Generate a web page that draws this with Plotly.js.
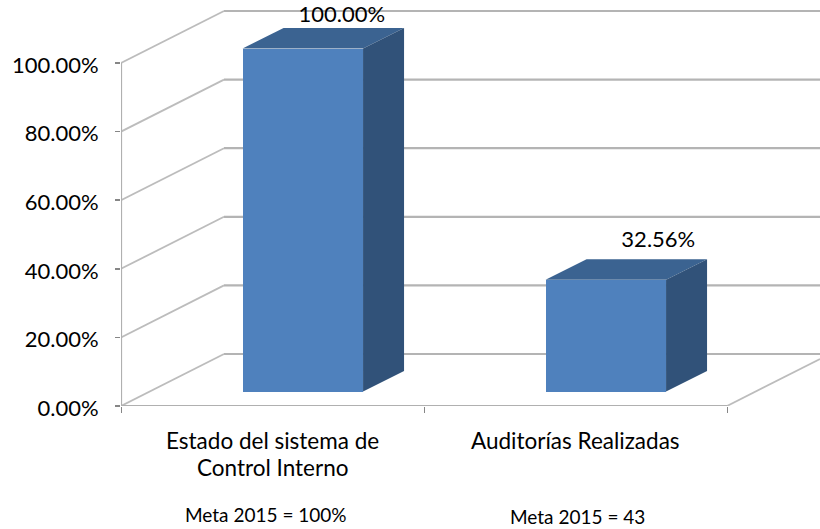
<!DOCTYPE html>
<html><head><meta charset="utf-8">
<script src="https://cdn.plot.ly/plotly-3.0.1.min.js"></script>
<style>html,body{margin:0;padding:0;background:#fff}</style></head>
<body><div id="c" style="width:820px;height:529px"></div>
<script>
const categories = ["Estado del sistema de<br>Control Interno", "Auditorías Realizadas"];
const values = [100, 32.56];
const valueLabels = ["100.00%", "32.56%"];
const metaNotes = ["Meta 2015 = 100%", "Meta 2015 = 43"];
const yTicks = [0, 20, 40, 60, 80, 100];
const yTickLabels = ["0.00%", "20.00%", "40.00%", "60.00%", "80.00%", "100.00%"];
const xTicks = [0, 1, 2];

// projection geometry (axis units)
const PXX = 303, PXY = 3.43;
const wallDX = 103 / PXX, wallDY = 52 / PXY;
const barLift = 14.5 / PXY, barW = 120.5 / PXX, barOff = 0.6;
const sideDX = 41 / PXX, sideDY = 20.5 / PXY;
const xMax = 699 / PXX, yMax = 406 / PXY;
const GRID = "#b4b4b4", FONT = "Lato, sans-serif";

const traces = [];
function line(xs, ys, color, width) {
  traces.push({type:"scatter", mode:"lines", x:xs, y:ys, cliponaxis:false, hoverinfo:"skip",
    showlegend:false, line:{color:color, width:width}, xaxis:"x", yaxis:"y"});
}
yTicks.forEach(t => {
  line([wallDX, xMax], [t + wallDY, t + wallDY], GRID, 2.2);
  line([0, wallDX], [t, t + wallDY], "#bcbcbc", 1.8);
});
line([2, xMax], [0, wallDY * (xMax - 2) / wallDX], "#bcbcbc", 1.8);
line([0, 0], [0, 100], "#b0b0b0", 2.2);
line([0, 2], [0, 0], "#b0b0b0", 2.2);

const centers = values.map((_, i) => i + barOff);
traces.push({type:"bar", x:centers, y:values, base:values.map(() => barLift), width:barW,
  marker:{color:"#4f81bd", line:{width:0}}, hoverinfo:"skip", showlegend:false, xaxis:"x2", yaxis:"y2"});

values.forEach((v, i) => {
  const l = centers[i] - barW / 2, r = centers[i] + barW / 2, b = barLift, t = barLift + v;
  traces.push({type:"scatter", mode:"lines", fill:"toself", fillcolor:"#3b6391", line:{width:0},
    x:[l, r, r + sideDX, l + sideDX, l], y:[t, t, t + sideDY, t + sideDY, t],
    hoverinfo:"skip", showlegend:false, xaxis:"x2", yaxis:"y2"});
  traces.push({type:"scatter", mode:"lines", fill:"toself", fillcolor:"#315279", line:{width:0},
    x:[r, r + sideDX, r + sideDX, r, r], y:[b, b + sideDY, t + sideDY, t, b],
    hoverinfo:"skip", showlegend:false, xaxis:"x2", yaxis:"y2"});
});

const labelDX = [39 / PXX, 52.5 / PXX], labelDY = [32 / PXY, 38 / PXY];
traces.push({type:"scatter", mode:"text", x:centers.map((c, i) => c + labelDX[i]),
  y:values.map((v, i) => barLift + v + labelDY[i]), text:valueLabels, textposition:"middle center",
  textfont:{family:FONT, size:22, color:"#000"}, cliponaxis:false, hoverinfo:"skip", showlegend:false, xaxis:"x2", yaxis:"y2"});

function note(text, xv, py, size) {
  return {text:text, xref:"x", yref:"paper", x:xv, y:-(py - 406) / 406, yanchor:"middle", xanchor:"center",
    showarrow:false, font:{family:FONT, size:size, color:"#000"}};
}
const catLines = categories[0].split("<br>");
const layout = {
  width:820, height:529, margin:{l:121, r:0, t:0, b:123, pad:0},
  paper_bgcolor:"#fff", plot_bgcolor:"#fff", showlegend:false, bargap:0,
  font:{family:FONT, color:"#000"},
  xaxis:{range:[0, xMax], showgrid:false, zeroline:false, showline:false, tickmode:"array",
    tickvals:xTicks, ticktext:xTicks.map(() => ""), ticks:"outside", ticklen:6, tickwidth:1, tickcolor:"#868686"},
  yaxis:{range:[0, yMax], showgrid:false, zeroline:false, showline:false, tickmode:"array",
    tickvals:yTicks, ticktext:yTickLabels, ticks:"outside", ticklen:5, tickwidth:1.5, tickcolor:"#868686",
    ticklabelstandoff:12, ticklabelshift:2,
    tickfont:{family:FONT, size:22, color:"#000"}},
  xaxis2:{range:[0, xMax], overlaying:"x", anchor:"y2", showgrid:false, zeroline:false, showline:false, visible:false},
  yaxis2:{range:[0, yMax], overlaying:"y", anchor:"x2", showgrid:false, zeroline:false, showline:false, visible:false},
  annotations:[
    note(catLines[0], 0.5, 440, 22.5),
    note(catLines[1], 0.5, 467, 22.5),
    note(categories[1], 1.5, 440, 22.5),
    note(metaNotes[0], 0.48, 514, 19),
    note(metaNotes[1], 1.505, 516, 19)
  ]
};
Plotly.newPlot("c", traces, layout, {displayModeBar:false, staticPlot:true});
</script></body></html>
